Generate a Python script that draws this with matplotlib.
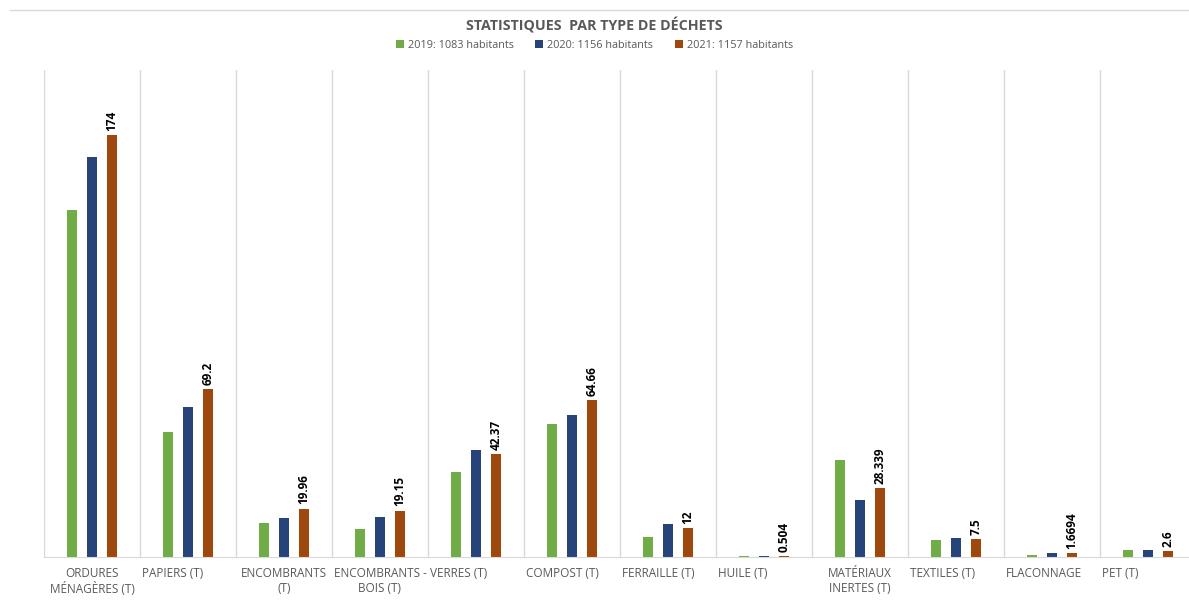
import matplotlib.pyplot as plt
import numpy as np

categories = ["ORDURES\nMÉNAGÈRES (T)", "PAPIERS (T)", "ENCOMBRANTS\n(T)",
              "ENCOMBRANTS -\nBOIS (T)", "VERRES (T)", "COMPOST (T)",
              "FERRAILLE (T)", "HUILE (T)", "MATÉRIAUX\nINERTES (T)",
              "TEXTILES (T)", "FLACONNAGE", "PET (T)"]
v2019 = [143.4, 51.7, 14.0, 11.6, 35.1, 55.0, 8.3, 0.3, 40.0, 7.0, 0.8, 2.7]
v2020 = [164.9, 62.0, 16.1, 16.5, 44.2, 58.7, 13.6, 0.4, 23.6, 7.9, 1.5, 2.7]
v2021 = [174, 69.2, 19.96, 19.15, 42.37, 64.66, 12, 0.504, 28.339, 7.5, 1.6694, 2.6]
labels2021 = ["174", "69.2", "19.96", "19.15", "42.37", "64.66", "12", "0.504",
              "28.339", "7.5", "1.6694", "2.6"]
series = ["2019: 1083 habitants", "2020: 1156 habitants", "2021: 1157 habitants"]
colors = ["#70AD47", "#264478", "#9E480E"]

plt.rcParams['font.family'] = ['Open Sans', 'DejaVu Sans']

fig = plt.figure(figsize=(11.89, 6.0), dpi=100)
ax = fig.add_axes([44/1189, 43/600, 1152/1189, 487/600])

x = np.arange(len(categories))
off = 0.208
w = 0.105
for i, vals in enumerate([v2019, v2020, v2021]):
    ax.bar(x + (i - 1) * off, vals, width=w, color=colors[i], label=series[i])

for xi, v, lab in zip(x, v2021, labels2021):
    ax.annotate(lab, (xi + off, v), xytext=(0, 3), textcoords="offset points",
                rotation=90, ha="center", va="bottom", fontsize=8.5,
                fontweight="bold", color="black")

ax.set_xlim(-0.5, len(categories) - 0.5)
ax.set_ylim(0, 201)
ax.set_yticks([])
ax.set_xticks(np.arange(len(categories) + 1) - 0.5, minor=True)
ax.set_xticks([])
ax.grid(axis="x", which="minor", color="#D9D9D9", linewidth=1)
ax.tick_params(which="both", length=0)
for s in ["top", "right", "left"]:
    ax.spines[s].set_visible(False)
ax.spines["bottom"].set_color("#D9D9D9")

for xi, cat in zip(x, categories):
    if "\n" in cat:
        ax.text(xi, -4, cat, ha="center", va="top", fontsize=8.5, color="#595959",
                transform=ax.transData, linespacing=1.25)
    else:
        ax.text(xi - 0.48, -4, cat, ha="left", va="top", fontsize=8.5, color="#595959",
                transform=ax.transData)

fig.text(0.5, 0.958, "STATISTIQUES  PAR TYPE DE DÉCHETS", ha="center", va="center",
         fontsize=10.3, fontweight="bold", color="#595959")
fig.legend(loc="center", bbox_to_anchor=(0.5, 0.925), ncol=3, frameon=False,
           fontsize=7.8, handlelength=0.7, handleheight=0.7, columnspacing=2.0,
           handletextpad=0.4, labelcolor="#595959")
fig.add_artist(plt.Line2D([10/1189, 1], [590/600, 590/600], color="#D9D9D9", linewidth=1))

fig.savefig("out.png", dpi=100, facecolor="white")
